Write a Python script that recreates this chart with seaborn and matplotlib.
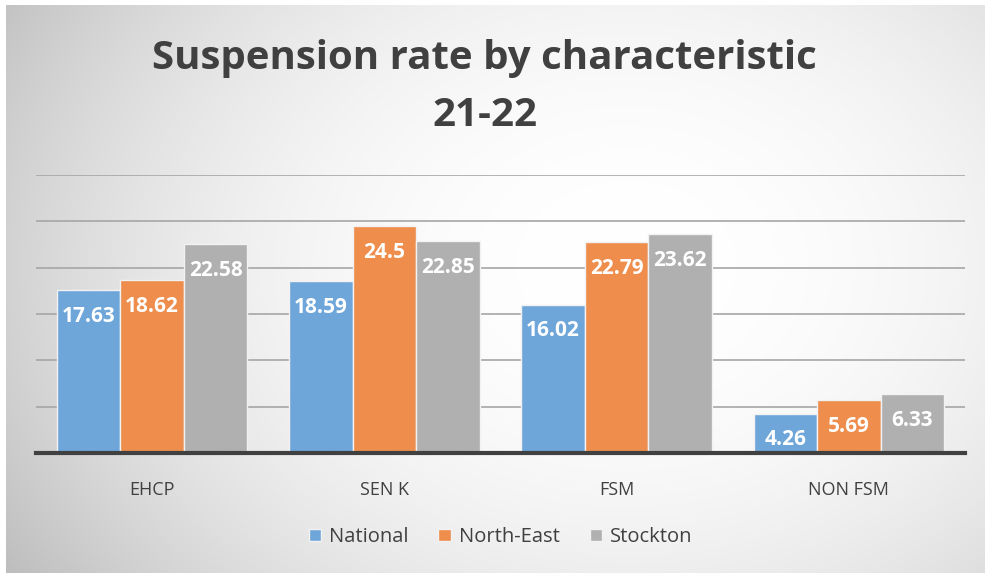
import numpy as np
import pandas as pd
import matplotlib
matplotlib.use("Agg")
import matplotlib.pyplot as plt
import seaborn as sns

categories = ["EHCP", "SEN K", "FSM", "NON FSM"]
series_names = ["National", "North-East", "Stockton"]
national = [17.63, 18.59, 16.02, 4.26]
north_east = [18.62, 24.5, 22.79, 5.69]
stockton = [22.58, 22.85, 23.62, 6.33]
colors = ["#6FA6D9", "#EE8D4C", "#B0B0B0"]

rows = []
for name, vals in zip(series_names, [national, north_east, stockton]):
    for c, v in zip(categories, vals):
        rows.append({"cat": c, "series": name, "value": v})
df = pd.DataFrame(rows)

sns.set_theme(style="white")
plt.rcParams["font.family"] = ["Open Sans", "DejaVu Sans"]

W, H = 985, 573
fig = plt.figure(figsize=(W / 100, H / 100), dpi=100)
fig.patch.set_facecolor("white")

# background radial gradient
bg = fig.add_axes([6 / W, 0, 1 - 6 / W, 1 - 5 / H], zorder=-5)
yy, xx = np.mgrid[0:568, 0:979]
cx, cy = 620, 260
d = np.sqrt(((xx - cx) / 700) ** 2 + ((yy - cy) / 540) ** 2)
val = 1.0 - 0.23 * np.clip(d, 0, 1.1) ** 2.2
img = np.dstack([val, val, val])
bg.imshow(img, aspect="auto", interpolation="bilinear")
bg.set_axis_off()

left, right = 36 / W, 965 / W
bottom, top = 1 - 453 / H, 1 - 175 / H
ax = fig.add_axes([left, bottom, right - left, top - bottom])
ax.set_facecolor("none")

sns.barplot(data=df, x="cat", y="value", hue="series", palette=colors,
            saturation=1, width=0.82, gap=0, edgecolor="#f2f2f2",
            linewidth=1.0, ax=ax, zorder=3, legend=True)

ax.set_ylim(0, 30)
ax.set_xlim(-0.5, 3.5)
ax.set_yticks(np.arange(0, 31, 5))
ax.set_yticklabels([])
ax.tick_params(axis="y", length=0)
ax.yaxis.grid(True, color="#a6a6a6", linewidth=1.2, zorder=0)
ax.set_axisbelow(True)
for s in ["top", "right", "left"]:
    ax.spines[s].set_visible(False)
ax.spines["bottom"].set_color("#404040")
ax.spines["bottom"].set_linewidth(3)
ax.spines["bottom"].set_zorder(5)
ax.set_xlabel("")
ax.set_ylabel("")
ax.tick_params(axis="x", length=0, pad=20, labelsize=13, labelcolor="#404040")

for cont in ax.containers:
    for p in cont:
        h = p.get_height()
        ax.annotate(f"{h:g}", (p.get_x() + p.get_width() / 2, h),
                    xytext=(0, -19), textcoords="offset points",
                    ha="center", va="center", color="white",
                    fontsize=15, fontweight="bold", zorder=6)

leg = ax.legend(loc="center", bbox_to_anchor=(0.5, (1 - 537 / H - bottom) / (top - bottom)),
                ncol=3, frameon=False, fontsize=14.5, handlelength=0.6,
                handleheight=0.6, handletextpad=0.4, columnspacing=1.5)
for t in leg.get_texts():
    t.set_color("#404040")

fig.text(0.492, 1 - 58 / H, "Suspension rate by characteristic", ha="center",
         va="center", fontsize=29, fontweight="bold", color="#404040")
fig.text(0.492, 1 - 115 / H, "21-22", ha="center", va="center",
         fontsize=29, fontweight="bold", color="#404040")

fig.savefig("out.png", dpi=100)
